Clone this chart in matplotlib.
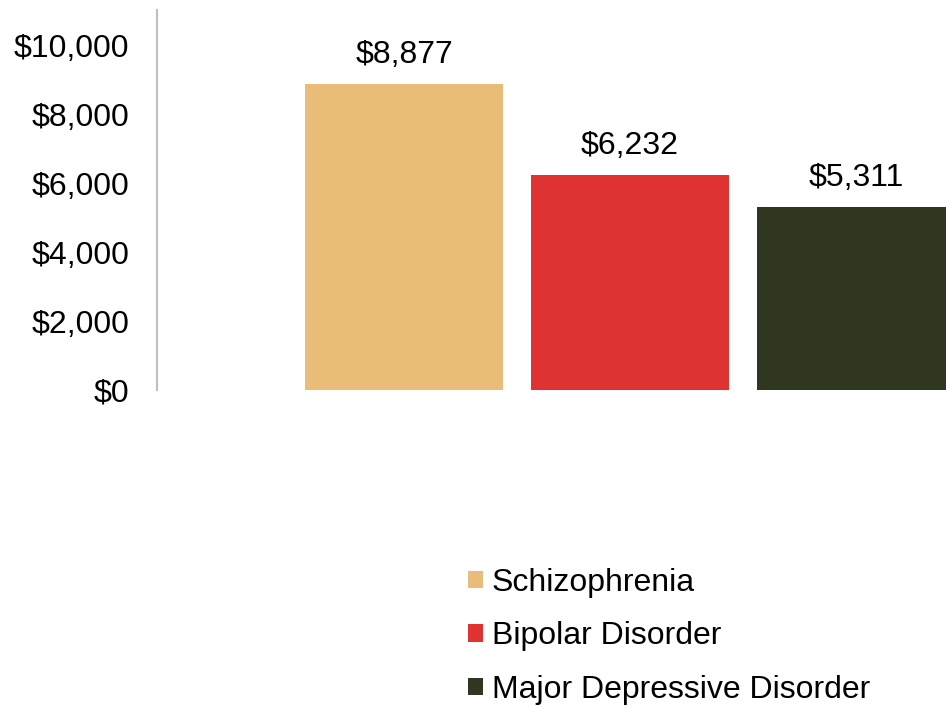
import matplotlib.pyplot as plt
from matplotlib.ticker import FuncFormatter

plt.rcParams['font.family'] = ['Liberation Sans', 'DejaVu Sans']

disorders = ["Schizophrenia", "Bipolar Disorder", "Major Depressive Disorder"]
costs = [8877, 6232, 5311]
colors = ["#E9BD77", "#DF3333", "#2F3720"]


def main():
    fig = plt.figure(figsize=(9.46, 7.06), dpi=100)
    ax = fig.add_axes([157 / 946, 1 - 390 / 706, 1 - 157 / 946, 380 / 706])

    bars = []
    for i, (name, val, col) in enumerate(zip(disorders, costs, colors)):
        b = ax.bar(i, val, width=0.876, color=col, label=name)
        ax.bar_label(b, labels=[f"${val:,.0f}"], padding=10, fontsize=23)
        bars.append(b)

    ax.set_xlim(-1.093, 2.398)
    ax.set_ylim(0, 11030)
    ax.set_yticks(range(0, 10001, 2000))
    ax.yaxis.set_major_formatter(FuncFormatter(lambda v, p: f"${v:,.0f}"))
    ax.tick_params(axis="y", length=0, pad=20, labelsize=23)
    ax.set_xticks([])
    for s in ["top", "right", "bottom"]:
        ax.spines[s].set_visible(False)
    ax.spines["left"].set_color("#BFBFBF")
    ax.spines["left"].set_linewidth(1.5)

    fig.legend(handles=bars, labels=disorders, loc="upper left",
               bbox_to_anchor=(455 / 946, 1 - 555 / 706), frameon=False,
               fontsize=23, handlelength=0.47, handleheight=0.47,
               handletextpad=0.28, labelspacing=0.74, borderaxespad=0)

    fig.savefig("out.png", dpi=100)


if __name__ == '__main__':
    main()
